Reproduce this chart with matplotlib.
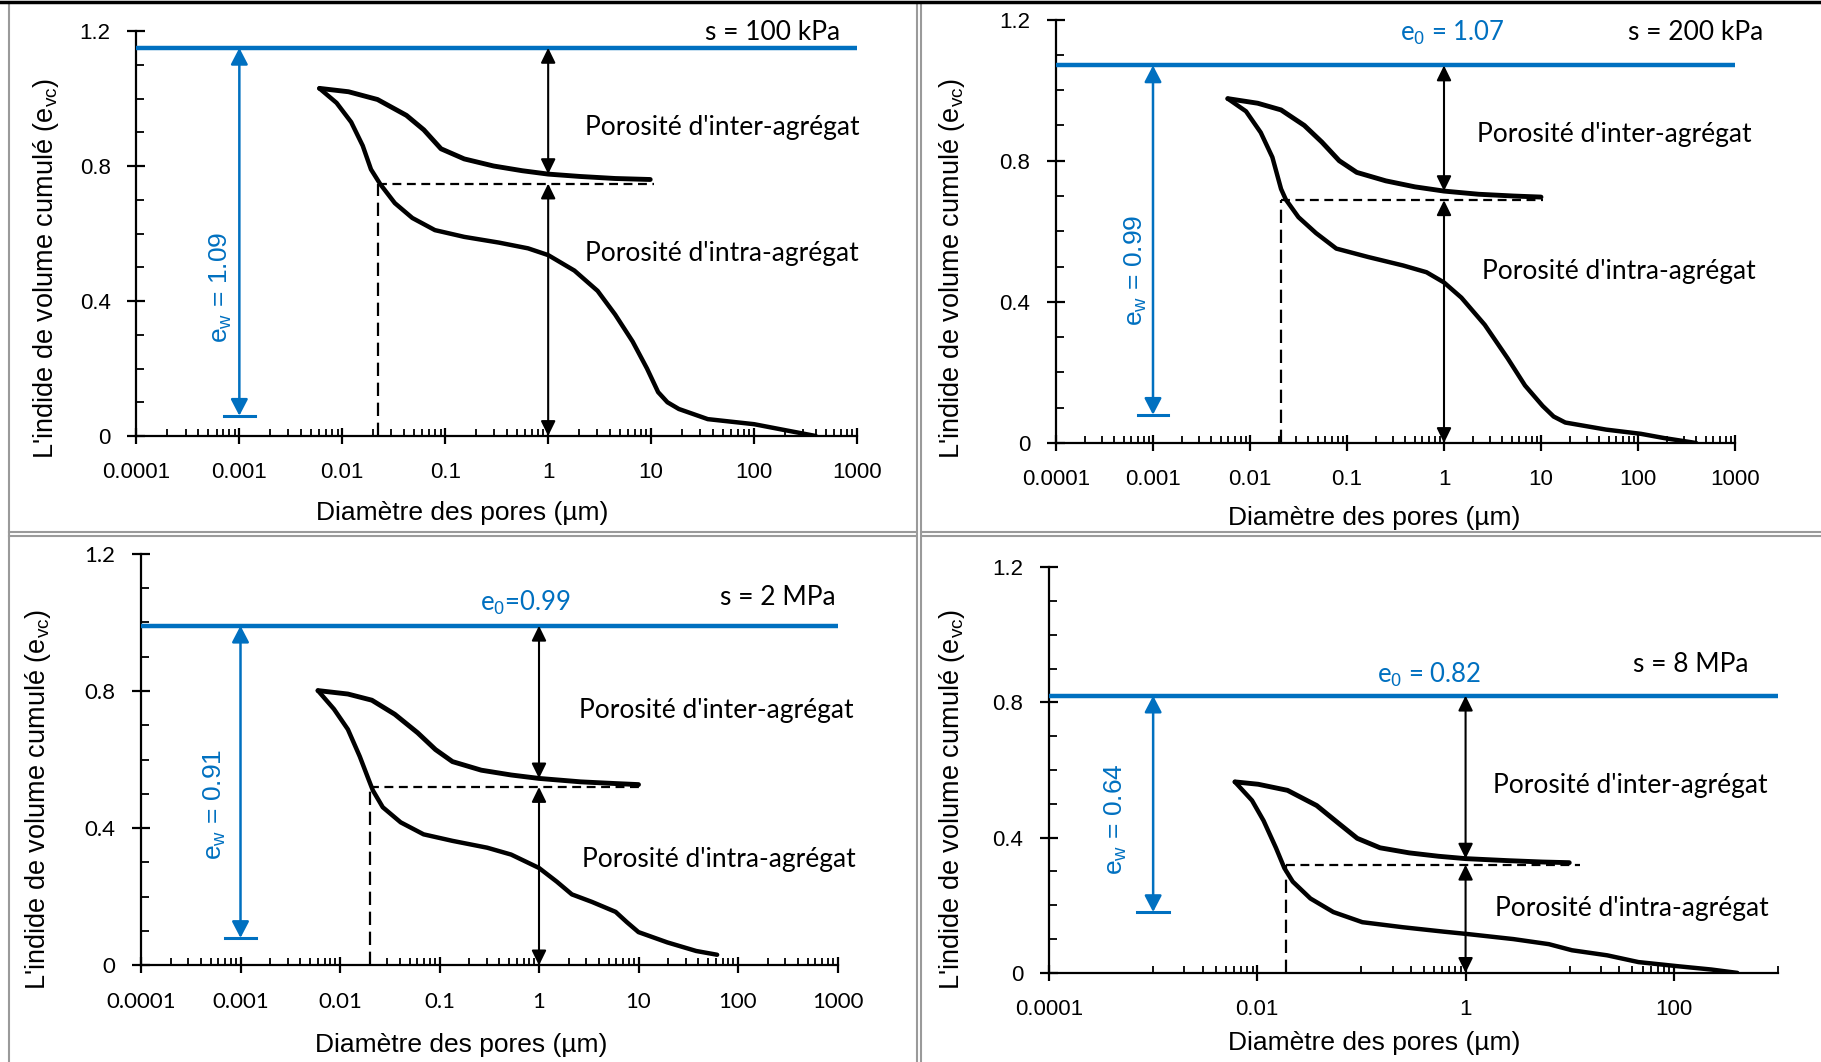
import matplotlib
matplotlib.use("Agg")
import matplotlib.pyplot as plt
from matplotlib.lines import Line2D
from matplotlib.ticker import LogLocator, FixedLocator, MultipleLocator, FuncFormatter
import numpy as np

plt.rcParams['mathtext.fontset'] = 'custom'
plt.rcParams['mathtext.rm'] = 'Liberation Sans'
plt.rcParams['mathtext.it'] = 'Liberation Sans:italic'

BLUE = "#0070C0"
ARIAL = ["Liberation Sans", "DejaVu Sans"]
CALIBRI = ["Lato", "DejaVu Sans"]

# ---- data (diameter in um, cumulated void ratio) ----
suction = ["s = 100 kPa", "s = 200 kPa", "s = 2 MPa", "s = 8 MPa"]
e0 = [1.15, 1.07, 0.99, 0.82]
e0_label = [None, "1.07", "0.99", "0.82"]
ew = [1.09, 0.99, 0.91, 0.64]

d_up = [
    [0.006, 0.0115, 0.022, 0.042, 0.062, 0.091, 0.153, 0.295, 0.56, 1.0, 2.04, 4.47, 9.8],
    [0.0059, 0.012, 0.0209, 0.0363, 0.055, 0.0832, 0.126, 0.251, 0.501, 1.0, 2.28, 5.2, 10.0],
    [0.006, 0.012, 0.0209, 0.0355, 0.0603, 0.0912, 0.135, 0.263, 0.525, 1.0, 2.63, 5.89, 10.0],
    [0.0061, 0.0102, 0.0195, 0.0372, 0.0617, 0.0912, 0.151, 0.288, 0.55, 1.0, 2.57, 5.5, 9.9],
]
e_up = [
    [1.03, 1.02, 0.997, 0.95, 0.907, 0.851, 0.821, 0.80, 0.786, 0.776, 0.769, 0.763, 0.760],
    [0.976, 0.963, 0.944, 0.90, 0.853, 0.80, 0.767, 0.743, 0.726, 0.714, 0.705, 0.70, 0.697],
    [0.801, 0.791, 0.773, 0.732, 0.678, 0.629, 0.594, 0.569, 0.555, 0.545, 0.535, 0.53, 0.527],
    [0.565, 0.558, 0.54, 0.495, 0.44, 0.398, 0.37, 0.355, 0.345, 0.338, 0.332, 0.328, 0.326],
]
d_low = [
    [0.006, 0.0088, 0.0122, 0.0158, 0.019, 0.0234, 0.0324, 0.0479, 0.0794, 0.153, 0.333, 0.638,
     1.0, 1.80, 3.02, 4.47, 6.61, 9.12, 11.7, 14.4, 18.6, 25.7, 35.5, 100, 195, 398],
    [0.0059, 0.0091, 0.0129, 0.017, 0.0209, 0.0234, 0.0316, 0.0479, 0.0776, 0.166, 0.38, 0.66,
     1.0, 1.51, 2.63, 4.53, 6.84, 10.4, 13.5, 17.8, 46.8, 107, 186, 398],
    [0.006, 0.0087, 0.012, 0.0158, 0.0195, 0.0214, 0.0269, 0.0407, 0.0692, 0.135, 0.302, 0.525,
     1.0, 1.51, 2.14, 3.41, 5.89, 7.64, 10.0, 19.5, 38.0, 61.7],
    [0.0061, 0.0089, 0.0115, 0.0151, 0.0182, 0.0219, 0.0324, 0.0537, 0.102, 0.251, 0.617, 1.04,
     2.88, 6.31, 10.5, 22.9, 45.7, 107, 229, 407],
]
e_low = [
    [1.03, 0.987, 0.93, 0.86, 0.79, 0.746, 0.69, 0.646, 0.61, 0.59, 0.573, 0.556,
     0.536, 0.49, 0.43, 0.36, 0.28, 0.20, 0.13, 0.10, 0.08, 0.065, 0.05, 0.035, 0.018, 0.0],
    [0.976, 0.94, 0.88, 0.81, 0.72, 0.69, 0.64, 0.595, 0.551, 0.527, 0.503, 0.484,
     0.455, 0.412, 0.335, 0.24, 0.163, 0.105, 0.075, 0.058, 0.038, 0.026, 0.014, 0.0],
    [0.801, 0.747, 0.688, 0.609, 0.54, 0.51, 0.461, 0.417, 0.382, 0.363, 0.343, 0.323,
     0.284, 0.244, 0.207, 0.185, 0.156, 0.126, 0.097, 0.067, 0.042, 0.031],
    [0.565, 0.51, 0.45, 0.37, 0.31, 0.27, 0.22, 0.18, 0.15, 0.135, 0.122, 0.115,
     0.10, 0.085, 0.067, 0.052, 0.032, 0.02, 0.01, 0.0],
]
# separation inter / intra: diameter, void ratio, end of the dashed line
d_sep = [0.022, 0.021, 0.02, 0.019]
e_sep = [0.748, 0.688, 0.52, 0.32]
d_sep_end = [10.7, 10.4, 11.2, 12.6]
e_at_1um = [0.776, 0.714, 0.545, 0.338]

# ---- layout (pixels of the 1821x1062 picture) ----
W, H = 1821, 1062
boxes = [(136.4, 857, 31, 436), (1056, 1735, 19.6, 443),
         (141, 837.5, 553.7, 965.4), (1049, 1778, 567.2, 972.9)]
ylab_xy = [(-0.104, 0.415), (-0.131, 0.413), (-0.126, 0.404), (-0.113, 0.427)]
xlab_xy = [(0.452, -0.161), (0.468, -0.149), (0.46, -0.163), (0.446, -0.144)]
# text anchors: (log10 x, y)
s_pos = [(2.836, 1.197), (3.29, 1.163), (2.98, 1.072), (2.72, 0.912)]
e0_pos = [None, (0.089, 1.163), (-0.14, 1.057), (-0.346, 0.88)]
inter_pos = [(0.358, 0.913), (0.34, 0.873), (0.40, 0.742), (0.268, 0.555)]
intra_pos = [(0.358, 0.542), (0.389, 0.485), (0.43, 0.308), (0.285, 0.19)]
ew_pos = [(-3.18, 0.44), (-3.175, 0.489), (-3.26, 0.47), (-3.356, 0.455)]
tick_font = [ARIAL, ARIAL, CALIBRI, ARIAL]

fig = plt.figure(figsize=(W / 100, H / 100), dpi=100)

for i in range(4):
    x0, x1, yt, yb = boxes[i]
    ax = fig.add_axes([x0 / W, 1 - yb / H, (x1 - x0) / W, (yb - yt) / H])
    ax.set_xscale("log")
    ax.set_xlim(1e-4, 1e3)
    ax.set_ylim(0, 1.2)
    for sp in ("top", "right"):
        ax.spines[sp].set_visible(False)
    for sp in ("left", "bottom"):
        ax.spines[sp].set_linewidth(1.6)

    if i == 3:
        ax.xaxis.set_major_locator(FixedLocator([1e-4, 1e-2, 1, 100]))
        minors = [k * 10.0 ** p for p in (-3, -1, 1, 3) for k in range(1, 10) if k * 10.0 ** p <= 1000]
        ax.xaxis.set_minor_locator(FixedLocator(minors))
    else:
        ax.xaxis.set_major_locator(FixedLocator([10.0 ** p for p in range(-4, 4)]))
        ax.xaxis.set_minor_locator(LogLocator(base=10, subs=np.arange(2, 10), numticks=20))
    ax.xaxis.set_major_formatter(FuncFormatter(lambda v, p: "%g" % v))
    ax.xaxis.set_minor_formatter(FuncFormatter(lambda v, p: ""))
    ax.yaxis.set_major_locator(FixedLocator([0, 0.4, 0.8, 1.2]))
    ax.yaxis.set_minor_locator(MultipleLocator(0.1))
    ax.yaxis.set_major_formatter(FuncFormatter(lambda v, p: "%g" % v))

    ax.tick_params(axis="x", which="major", direction="inout", length=12, width=1.6, pad=13)
    ax.tick_params(axis="x", which="minor", direction="in", length=5, width=1.3)
    ax.tick_params(axis="y", which="major", direction="inout", length=13, width=1.6, pad=12)
    ax.tick_params(axis="y", which="minor", direction="in", length=6, width=1.3)
    for lab in ax.get_xticklabels() + ax.get_yticklabels():
        lab.set_family(tick_font[i])
        lab.set_fontsize(16)

    ax.set_xlabel("Diamètre des pores (µm)", family=ARIAL, fontsize=19)
    ax.set_ylabel(r"L'indide de volume cumulé (e$_{\mathrm{vc}}$)", family=ARIAL, fontsize=19.5)
    ax.xaxis.set_label_coords(*xlab_xy[i])
    ax.yaxis.set_label_coords(*ylab_xy[i])

    # e0 line
    ax.axhline(e0[i], color=BLUE, lw=3.2, zorder=3)

    # curves
    ax.plot(d_up[i], e_up[i], color="black", lw=3.5, solid_capstyle="round",
            solid_joinstyle="round", zorder=4)
    ax.plot(d_low[i], e_low[i], color="black", lw=3.2, solid_capstyle="round",
            solid_joinstyle="round", zorder=4)

    # dashed separation
    ax.plot([d_sep[i], d_sep_end[i]], [e_sep[i], e_sep[i]], color="black", lw=1.6,
            ls=(0, (4, 2.5)), zorder=3)
    ax.plot([d_sep[i], d_sep[i]], [0, e_sep[i]], color="black", lw=1.6,
            ls=(0, (6, 3)), zorder=3)

    # black arrows at 1 um
    aprops = dict(arrowstyle="<|-|>,head_length=0.45,head_width=0.22", color="black",
                  lw=1.5, shrinkA=0, shrinkB=0, mutation_scale=20)
    ax.annotate("", xy=(1, e0[i]), xytext=(1, e_at_1um[i]), arrowprops=aprops, zorder=5)
    ax.annotate("", xy=(1, e_sep[i]), xytext=(1, 0), arrowprops=aprops, zorder=5)

    # blue ew arrow
    bottom = e0[i] - ew[i]
    bprops = dict(arrowstyle="<|-|>,head_length=0.5,head_width=0.26", color=BLUE,
                  lw=1.8, shrinkA=0, shrinkB=0, mutation_scale=20)
    ax.annotate("", xy=(1e-3, e0[i]), xytext=(1e-3, bottom), arrowprops=bprops, zorder=5)
    ax.plot([1e-3 / 1.42, 1e-3 * 1.42], [bottom, bottom], color=BLUE, lw=2.2, zorder=5)

    # texts
    lx, ly = ew_pos[i]
    ax.text(10 ** lx, ly, r"e$_{\mathrm{w}}$ = %.2f" % ew[i], color=BLUE, family=ARIAL,
            fontsize=19, rotation=90, ha="center", va="center")
    lx, ly = s_pos[i]
    ax.text(10 ** lx, ly, suction[i], family=CALIBRI, fontsize=19, ha="right", va="center")
    if e0_label[i]:
        lx, ly = e0_pos[i]
        sep = "=" if i == 2 else " = "
        ax.text(10 ** lx, ly, r"e$_{\mathrm{0}}$" + sep + e0_label[i], color=BLUE,
                family=CALIBRI, fontsize=18.5, ha="center", va="center")
    lx, ly = inter_pos[i]
    ax.text(10 ** lx, ly, "Porosité d'inter-agrégat", family=CALIBRI, fontsize=19,
            ha="left", va="center")
    lx, ly = intra_pos[i]
    ax.text(10 ** lx, ly, "Porosité d'intra-agrégat", family=CALIBRI, fontsize=19,
            ha="left", va="center")

# panel frames
def hline(y, xa, xb, color, lw):
    fig.add_artist(Line2D([xa / W, xb / W], [1 - y / H, 1 - y / H], color=color, lw=lw))

def vline(x, ya, yb, color, lw):
    fig.add_artist(Line2D([x / W, x / W], [1 - ya / H, 1 - yb / H], color=color, lw=lw))

GREY = "#9a9a9a"
vline(9, 3, H, GREY, 1.5)
vline(917, 3, H, GREY, 1.5)
vline(921, 3, H, GREY, 1.5)
hline(532, 9, 915, GREY, 1.5)
hline(536, 9, 915, GREY, 1.5)
hline(532, 923, W, GREY, 1.5)
hline(536, 923, W, GREY, 1.5)
hline(1.5, 0, W, "black", 2.5)

fig.savefig("out.png", dpi=100)
